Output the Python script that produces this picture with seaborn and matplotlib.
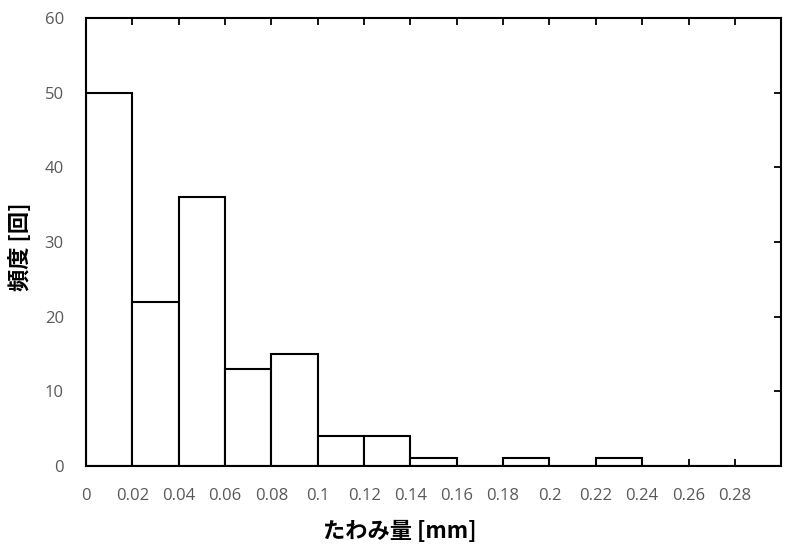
import numpy as np
import pandas as pd
import matplotlib.pyplot as plt
import seaborn as sns

# ビン (0.02 mm 幅) と度数
bin_edges = [0.00, 0.02, 0.04, 0.06, 0.08, 0.10, 0.12, 0.14, 0.16,
             0.18, 0.20, 0.22, 0.24, 0.26, 0.28, 0.30]
counts = [50, 22, 36, 13, 15, 4, 4, 1, 0, 1, 0, 1, 0, 0, 0]
x_ticks = [0, 0.02, 0.04, 0.06, 0.08, 0.1, 0.12, 0.14, 0.16, 0.18, 0.2, 0.22, 0.24, 0.26, 0.28]
x_tick_labels = ["0", "0.02", "0.04", "0.06", "0.08", "0.1", "0.12", "0.14",
                 "0.16", "0.18", "0.2", "0.22", "0.24", "0.26", "0.28"]
y_ticks = [0, 10, 20, 30, 40, 50, 60]

sns.set_theme(style="white")
plt.rcParams['font.family'] = ['Noto Sans CJK JP', 'DejaVu Sans']

df = pd.DataFrame({
    "deflection": [(bin_edges[i] + bin_edges[i + 1]) / 2 for i in range(len(counts))],
    "count": counts,
})

fig = plt.figure(figsize=(8, 5.6), dpi=100)
ax = fig.add_axes([0.1075, 0.168, 0.869, 0.800])

sns.histplot(data=df, x="deflection", weights="count", bins=bin_edges,
             color="white", edgecolor="black", linewidth=1.5, alpha=1, ax=ax)

ax.set_xlim(0, 0.30)
ax.set_ylim(0, 60)
ax.set_xticks(x_ticks)
ax.set_xticklabels(x_tick_labels)
ax.set_yticks(y_ticks)

for s in ax.spines.values():
    s.set_color("black")
    s.set_linewidth(1.5)
    s.set_visible(True)

ax.tick_params(axis="both", direction="in", length=5, width=1.3, color="black",
               top=True, right=True, bottom=True, left=True,
               labelsize=12, labelcolor="#595959", pad=16)
for lbl in ax.get_xticklabels() + ax.get_yticklabels():
    lbl.set_fontfamily(['Open Sans', 'DejaVu Sans'])
ax.grid(False)

ax.set_xlabel("たわみ量 [mm]", fontsize=16, fontweight="bold", color="black")
ax.set_ylabel("頻度 [回]", fontsize=16, fontweight="bold", color="black")
ax.xaxis.set_label_coords(0.452, -0.12)
ax.yaxis.set_label_coords(-0.078, 0.49)

fig.savefig("out.png", dpi=100, facecolor="white")
